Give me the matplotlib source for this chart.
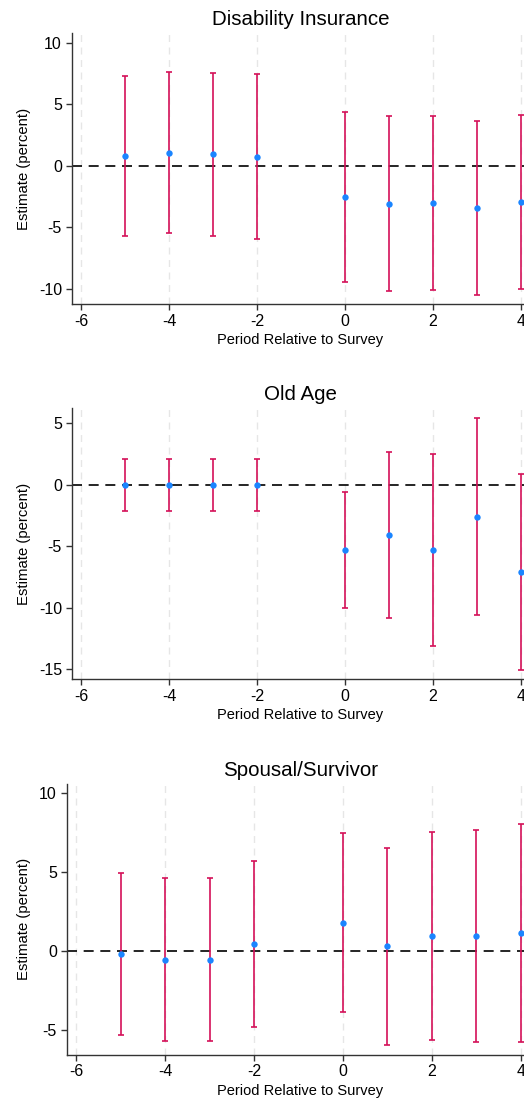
import matplotlib
matplotlib.use("Agg")
import matplotlib.pyplot as plt

plt.rcParams["font.family"] = ["Liberation Sans", "DejaVu Sans"]
plt.rcParams["axes.unicode_minus"] = False

# ── Event-study estimates (percent) ───────────────────────────────────────────

periods = [-5, -4, -3, -2, 0, 1, 2, 3, 4]

di_est   = [0.79, 1.06, 0.92, 0.73, -2.55, -3.09, -3.04, -3.44, -2.93]
di_upper = [7.26, 7.64, 7.53, 7.43, 4.39, 4.01, 4.07, 3.63, 4.12]
di_lower = [-5.72, -5.45, -5.69, -5.96, -9.49, -10.16, -10.14, -10.49, -10.00]

oa_est   = [0.0, 0.0, 0.0, 0.0, -5.30, -4.10, -5.33, -2.61, -7.09]
oa_upper = [2.09, 2.09, 2.09, 2.09, -0.57, 2.64, 2.50, 5.43, 0.90]
oa_lower = [-2.12, -2.12, -2.12, -2.12, -10.03, -10.84, -13.13, -10.63, -15.11]

ss_est   = [-0.15, -0.55, -0.55, 0.44, 1.81, 0.30, 0.99, 0.99, 1.16]
ss_upper = [4.98, 4.66, 4.66, 5.72, 7.47, 6.56, 7.57, 7.70, 8.04]
ss_lower = [-5.30, -5.72, -5.72, -4.81, -3.86, -5.97, -5.61, -5.74, -5.78]

titles  = ["Disability Insurance", "Old Age", "Spousal/Survivor"]
x_ticks = [-6, -4, -2, 0, 2, 4]
y_ticks = [[-10, -5, 0, 5, 10], [-15, -10, -5, 0, 5], [-5, 0, 5, 10]]

# ── Layout ────────────────────────────────────────────────────────────────────

W, H = 524, 1101
panels = [
    dict(left=71.7, top=33.3, bottom=304.0, ylim=(-11.25, 10.76)),
    dict(left=71.7, top=408.3, bottom=679.3, ylim=(-15.84, 6.22)),
    dict(left=66.7, top=784.0, bottom=1054.7, ylim=(-6.56, 10.59)),
]
RIGHT_PX = 530.3
CENTER_PX = 300.5
XLIM     = (-6.21, 4.21)

BLUE    = "#1a85ff"
CRIMSON = "#d41159"

fig = plt.figure(figsize=(W / 100, H / 100), dpi=100)

series = [
    (di_est, di_lower, di_upper),
    (oa_est, oa_lower, oa_upper),
    (ss_est, ss_lower, ss_upper),
]

for i, (p, (est, lo, hi)) in enumerate(zip(panels, series)):
    ax = fig.add_axes([
        p["left"] / W,
        1 - p["bottom"] / H,
        (RIGHT_PX - p["left"]) / W,
        (p["bottom"] - p["top"]) / H,
    ])

    yerr = [[e - l for e, l in zip(est, lo)], [u - e for e, u in zip(est, hi)]]

    for xt in x_ticks:
        ax.axvline(xt, color="#e6e6e6", lw=1.0, ls=(0, (5, 4)), zorder=0)
    ax.axhline(0, color="black", lw=1.2, ls=(0, (6, 4)), zorder=1)

    ax.errorbar(periods, est, yerr=yerr, fmt="none", ecolor=CRIMSON,
                elinewidth=1.2, capsize=2.5, capthick=1.2, zorder=2)
    ax.plot(periods, est, "o", color=BLUE, ms=4.6, mec="none", zorder=3)

    ax.set_xlim(*XLIM)
    ax.set_ylim(*p["ylim"])
    ax.set_xticks(x_ticks)
    ax.set_yticks(y_ticks[i])

    for side in ("top", "right"):
        ax.spines[side].set_visible(False)
    for side in ("left", "bottom"):
        ax.spines[side].set_color("#333333")
        ax.spines[side].set_linewidth(1.0)
    ax.tick_params(direction="out", length=4, width=1.0, color="#333333",
                   labelsize=11.5, pad=3)

    cx = (CENTER_PX - p["left"]) / (RIGHT_PX - p["left"])
    ax.set_title(titles[i], fontsize=14.8, pad=6, x=cx)
    ax.set_xlabel("Period Relative to Survey", fontsize=10.5)
    ax.set_ylabel("Estimate (percent)", fontsize=10.7, labelpad=6)
    ax.xaxis.set_label_coords(cx, -0.107)

fig.savefig("out.png", dpi=100)
